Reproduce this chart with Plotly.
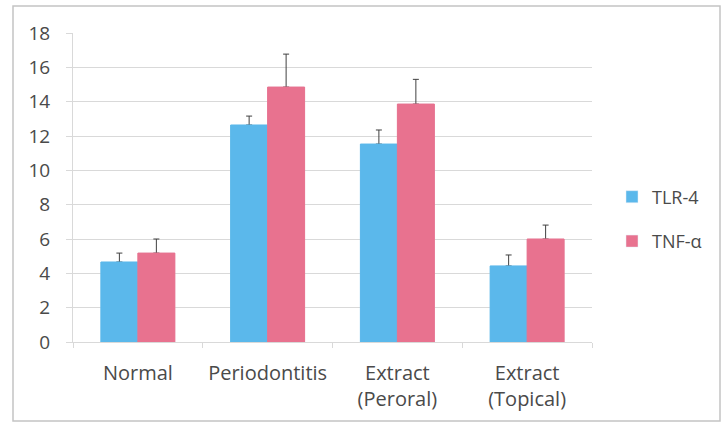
import plotly.graph_objects as go

categories = ["Normal", "Periodontitis", "Extract<br>(Peroral)", "Extract<br>(Topical)"]
tlr4 = [4.66, 12.64, 11.53, 4.43]
tlr4_err = [0.52, 0.52, 0.82, 0.64]
tnfa = [5.18, 14.85, 13.86, 6.0]
tnfa_err = [0.82, 1.92, 1.44, 0.81]
y_ticks = [0, 2, 4, 6, 8, 10, 12, 14, 16, 18]

W, H = 722, 429
L, R, T, B = 73, 130, 33, 87
pw, ph = W - L - R, H - T - B

def px(x):
    return (x - L) / pw

def py(y):
    return (H - B - y) / ph

BLUE, PINK = "#5BB8EB", "#E8728F"
TXT = "#4A4A4A"
err_style = dict(type="data", symmetric=False, color="#404040", thickness=1, width=3)

fig = go.Figure()
fig.add_trace(go.Bar(
    x=categories, y=tlr4, name="TLR-4", marker_color=BLUE, offsetgroup="a",
    legendgroup="a",
    error_y=dict(array=tlr4_err, arrayminus=[0] * len(tlr4), **err_style),
))
fig.add_trace(go.Bar(
    x=categories, y=tnfa, name="TNF-α", marker_color=PINK, offsetgroup="b",
    legendgroup="b",
    error_y=dict(array=tnfa_err, arrayminus=[0] * len(tnfa), **err_style),
))
# same bars drawn again on top, hiding the lower caps of the plus-only error bars
fig.add_trace(go.Bar(x=categories, y=tlr4, marker=dict(color=BLUE, line=dict(color=BLUE, width=1)),
                     offsetgroup="a", showlegend=False, hoverinfo="skip"))
fig.add_trace(go.Bar(x=categories, y=tnfa, marker=dict(color=PINK, line=dict(color=PINK, width=1)),
                     offsetgroup="b", showlegend=False, hoverinfo="skip"))

fig.update_layout(
    width=W, height=H,
    margin=dict(l=L, r=R, t=T, b=B, autoexpand=False),
    paper_bgcolor="white", plot_bgcolor="white",
    barmode="group", bargap=0.43, bargroupgap=0,
    font=dict(family="Open Sans", size=18, color=TXT),
    legend=dict(x=px(612), xanchor="left", y=py(219), yanchor="middle",
                traceorder="grouped", tracegroupgap=18,
                font=dict(size=18, color=TXT), bgcolor="rgba(0,0,0,0)"),
    showlegend=True,
    shapes=[dict(type="rect", xref="paper", yref="paper",
                 x0=px(13), x1=px(720), y0=py(421), y1=py(6),
                 line=dict(color="#C4C4C4", width=1.5), layer="below")],
)
fig.update_yaxes(range=[0, 18], tickvals=y_ticks, showgrid=True, gridcolor="#D9D9D9",
                 gridwidth=1, showline=True, linecolor="#D9D9D9", linewidth=1,
                 ticks="outside", ticklen=6, tickcolor="#D9D9D9",
                 ticklabelstandoff=12, zeroline=False,
                 tickfont=dict(size=19, color=TXT))
fig.update_xaxes(showline=True, linecolor="#D9D9D9", linewidth=1,
                 ticks="outside", tickson="boundaries", ticklen=5, tickcolor="#D9D9D9",
                 ticklabelstandoff=13,
                 tickfont=dict(size=20, color=TXT))

fig.write_html("out.html", config={"displayModeBar": False},
               post_script="document.body.style.margin='0px';")
